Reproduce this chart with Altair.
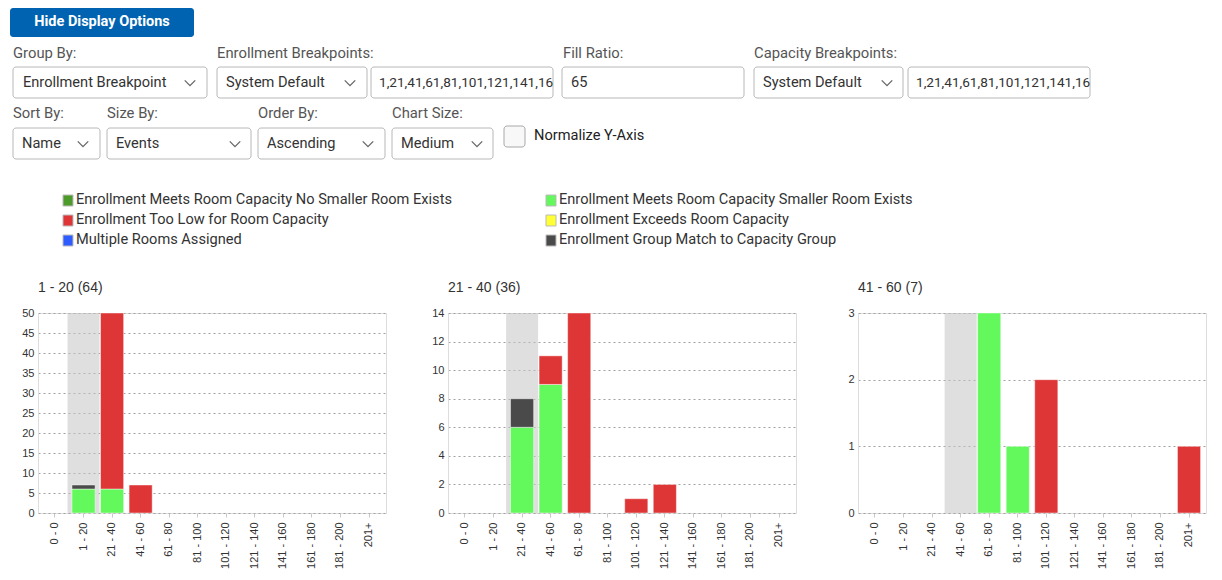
import altair as alt
import pandas as pd

# ---------------- data ----------------
CAPS = ["0 - 0", "1 - 20", "21 - 40", "41 - 60", "61 - 80", "81 - 100",
        "101 - 120", "121 - 140", "141 - 160", "161 - 180", "181 - 200", "201+"]

STATUS = ["Enrollment Meets Room Capacity No Smaller Room Exists",
          "Enrollment Meets Room Capacity Smaller Room Exists",
          "Enrollment Too Low for Room Capacity",
          "Enrollment Exceeds Room Capacity",
          "Multiple Rooms Assigned",
          "Enrollment Group Match to Capacity Group"]
COLORS = ["#4c9a2a", "#63f85b", "#de3636", "#ffff33", "#2e5cff", "#4a4a4a"]

GROUPS = ["1 - 20", "21 - 40", "41 - 60"]
LIGHT_GREEN = [[0, 6, 6, 0, 0, 0, 0, 0, 0, 0, 0, 0],
               [0, 0, 6, 9, 0, 0, 0, 0, 0, 0, 0, 0],
               [0, 0, 0, 0, 3, 1, 0, 0, 0, 0, 0, 0]]
RED = [[0, 0, 44, 7, 0, 0, 0, 0, 0, 0, 0, 0],
       [0, 0, 0, 2, 14, 0, 1, 2, 0, 0, 0, 0],
       [0, 0, 0, 0, 0, 0, 2, 0, 0, 0, 0, 1]]
DARK_GRAY = [[0, 1, 0, 0, 0, 0, 0, 0, 0, 0, 0, 0],
             [0, 0, 2, 0, 0, 0, 0, 0, 0, 0, 0, 0],
             [0, 0, 0, 0, 0, 0, 0, 0, 0, 0, 0, 0]]
Y_STEPS = [5, 2, 1]

# ---------------- header (form controls) layout ----------------
UI_FONT = "Roboto"
UI_SIZE = 14.6
BUTTON = [{"x": 9, "x2": 193, "y": 8, "y2": 37}]
BOXES = [
    {"x": 12, "x2": 206, "y": 67, "y2": 98},
    {"x": 216, "x2": 366, "y": 67, "y2": 98},
    {"x": 370, "x2": 552, "y": 67, "y2": 98},
    {"x": 561, "x2": 743, "y": 67, "y2": 98},
    {"x": 753, "x2": 902, "y": 67, "y2": 98},
    {"x": 907, "x2": 1089, "y": 67, "y2": 98},
    {"x": 12, "x2": 99, "y": 128, "y2": 159},
    {"x": 106, "x2": 250, "y": 128, "y2": 159},
    {"x": 257, "x2": 384, "y": 128, "y2": 159},
    {"x": 391, "x2": 492, "y": 128, "y2": 159},
]
CHECKBOX = [{"x": 503, "x2": 524, "y": 126, "y2": 147}]
LABELS = [
    {"x": 12, "y": 54, "t": "Group By:"},
    {"x": 216, "y": 54, "t": "Enrollment Breakpoints:"},
    {"x": 562, "y": 54, "t": "Fill Ratio:"},
    {"x": 753, "y": 54, "t": "Capacity Breakpoints:"},
    {"x": 12, "y": 114, "t": "Sort By:"},
    {"x": 106, "y": 114, "t": "Size By:"},
    {"x": 257, "y": 114, "t": "Order By:"},
    {"x": 391, "y": 114, "t": "Chart Size:"},
]
VALUES = [
    {"x": 22, "y": 83, "t": "Enrollment Breakpoint"},
    {"x": 225, "y": 83, "t": "System Default"},
    {"x": 570, "y": 83, "t": "65"},
    {"x": 762, "y": 83, "t": "System Default"},
    {"x": 21, "y": 144, "t": "Name"},
    {"x": 115, "y": 144, "t": "Events"},
    {"x": 266, "y": 144, "t": "Ascending"},
    {"x": 400, "y": 144, "t": "Medium"},
]
INPUTS = [
    {"x": 378, "y": 83, "t": "1,21,41,61,81,101,121,141,16"},
    {"x": 915, "y": 83, "t": "1,21,41,61,81,101,121,141,16"},
]
CHEVRONS = [{"x": 189, "y": 83}, {"x": 349, "y": 83}, {"x": 886, "y": 83},
            {"x": 82, "y": 144}, {"x": 234, "y": 144}, {"x": 367, "y": 144},
            {"x": 476, "y": 144}]
LEGEND_POS = [{"x": 62, "y": 200}, {"x": 545, "y": 200}, {"x": 62, "y": 220},
              {"x": 545, "y": 220}, {"x": 62, "y": 240}, {"x": 545, "y": 240}]
LEGEND_ORDER = [0, 1, 2, 3, 4, 5]

# header view in screen pixels
HX = alt.Scale(domain=[37, 1212], nice=False, zero=False)
HY = alt.Scale(domain=[15, 279.5], nice=False, zero=False, reverse=True)
COLOR_SCALE = alt.Scale(domain=STATUS, range=COLORS)


def hx(f):
    return alt.X(f"{f}:Q", scale=HX, axis=None)


def hy(f):
    return alt.Y(f"{f}:Q", scale=HY, axis=None)


button = alt.Chart(pd.DataFrame(BUTTON)).mark_rect(cornerRadius=3, color="#0063b1").encode(
    x=hx("x"), x2="x2:Q", y=hy("y"), y2="y2:Q")
button_text = alt.Chart(pd.DataFrame([{"x": 101, "y": 22, "t": "Hide Display Options"}])).mark_text(
    font=UI_FONT, fontSize=14.5, fontWeight="bold", color="white", align="center", baseline="middle"
).encode(x=hx("x"), y=hy("y"), text="t:N")
boxes = alt.Chart(pd.DataFrame(BOXES)).mark_rect(
    cornerRadius=3, fill="white", stroke="#b8b8b8", strokeWidth=1).encode(
    x=hx("x"), x2="x2:Q", y=hy("y"), y2="y2:Q")
checkbox = alt.Chart(pd.DataFrame(CHECKBOX)).mark_rect(
    cornerRadius=3, fill="#f8f8f8", stroke="#a8a8a8", strokeWidth=1).encode(
    x=hx("x"), x2="x2:Q", y=hy("y"), y2="y2:Q")
labels = alt.Chart(pd.DataFrame(LABELS)).mark_text(
    font=UI_FONT, fontSize=14.8, color="#555555", align="left", baseline="middle").encode(
    x=hx("x"), y=hy("y"), text="t:N")
values = alt.Chart(pd.DataFrame(VALUES)).mark_text(
    font=UI_FONT, fontSize=UI_SIZE, color="#333333", align="left", baseline="middle").encode(
    x=hx("x"), y=hy("y"), text="t:N")
inputs = alt.Chart(pd.DataFrame(INPUTS)).mark_text(
    font=UI_FONT, fontSize=13.6, color="#333333", align="left", baseline="middle").encode(
    x=hx("x"), y=hy("y"), text="t:N")
normalize = alt.Chart(pd.DataFrame([{"x": 533, "y": 136, "t": "Normalize Y-Axis"}])).mark_text(
    font=UI_FONT, fontSize=UI_SIZE, color="#222222", align="left", baseline="middle").encode(
    x=hx("x"), y=hy("y"), text="t:N")
chevrons = alt.Chart(pd.DataFrame(CHEVRONS)).mark_point(
    shape="M-1,-0.5L0,0.5L1,-0.5", filled=False, size=110, stroke="#6a6a6a", strokeWidth=1.4,
    opacity=1).encode(x=hx("x"), y=hy("y"))

leg_rows = []
for i, p in zip(LEGEND_ORDER, LEGEND_POS):
    leg_rows.append({"x": p["x"], "x2": p["x"] + 10, "y": p["y"] - 5, "y2": p["y"] + 6,
                     "tx": p["x"] + 13, "ty": p["y"], "status": STATUS[i]})
leg_df = pd.DataFrame(leg_rows)
swatches = alt.Chart(leg_df).mark_rect(stroke="#bbbbbb", strokeWidth=1).encode(
    x=hx("x"), x2="x2:Q", y=hy("y"), y2="y2:Q",
    color=alt.Color("status:N", scale=COLOR_SCALE, legend=None))
leg_text = alt.Chart(leg_df).mark_text(
    font=UI_FONT, fontSize=UI_SIZE, color="#333333", align="left", baseline="middle").encode(
    x=hx("tx"), y=hy("ty"), text="status:N")

header = alt.layer(button, button_text, boxes, checkbox, labels, values, inputs, normalize,
                   chevrons, swatches, leg_text).properties(
    width=1175, height=264.5, view=alt.ViewBackground(stroke="transparent", strokeWidth=0))


# ---------------- panels ----------------
def panel(i):
    g = GROUPS[i]
    rows = []
    for s_idx, series in [(1, LIGHT_GREEN[i]), (2, RED[i]), (5, DARK_GRAY[i])]:
        for c, v in zip(CAPS, series):
            if v > 0:
                rows.append({"cap": c, "status": STATUS[s_idx], "value": v, "ord": s_idx})
    df = pd.DataFrame(rows)
    totals = df.groupby("cap")["value"].sum()
    ymax = int(totals.max())
    total = int(df["value"].sum())
    bg = pd.DataFrame({"cap": [g], "top": [ymax]})

    xenc = alt.X("cap:N", sort=CAPS,
                 scale=alt.Scale(domain=CAPS, paddingInner=0.19, paddingOuter=0.19),
                 axis=alt.Axis(title=None, labelAngle=-90, labelFontSize=11, labelColor="#333333",
                               labelFont="Liberation Sans", tickSize=4, tickColor="#c8c8c8",
                               labelPadding=5, domain=False, grid=False))
    yscale = alt.Scale(domain=[0, ymax], nice=False)
    yaxis = alt.Axis(title=None, values=list(range(0, ymax + 1, Y_STEPS[i])), grid=True,
                     gridDash=[2, 3], gridColor="#a0a0a0", domainColor="#dddddd", ticks=False,
                     labelPadding=4, labelFontSize=11, labelColor="#333333",
                     labelFont="Liberation Sans", minExtent=29, maxExtent=29)
    bgl = alt.Chart(bg).mark_bar(size=32, color="#c4c4c4", opacity=0.55).encode(
        x=xenc, y=alt.Y("top:Q", scale=yscale, axis=yaxis), y2=alt.datum(0))
    bars = alt.Chart(df).mark_bar(stroke="white", strokeOpacity=0.45, strokeWidth=1).encode(
        x=xenc,
        y=alt.Y("value:Q", stack="zero", scale=yscale, axis=yaxis),
        color=alt.Color("status:N", scale=COLOR_SCALE, legend=None),
        order=alt.Order("ord:Q"))
    return alt.layer(bgl, bars).properties(
        width=348, height=200,
        title=alt.TitleParams(f"{g} ({total})", anchor="start", frame="group", fontSize=14,
                              font="Liberation Sans", fontWeight="normal", color="#333333",
                              baseline="alphabetic", offset=1))


panels = alt.hconcat(panel(0), panel(1), panel(2), spacing=31)

chart = alt.vconcat(header, panels, spacing=0).properties(padding=0).configure_view(
    stroke="transparent", strokeWidth=0).configure(background="white")

chart.save("out.html", embed_options={"renderer": "svg", "actions": False})
